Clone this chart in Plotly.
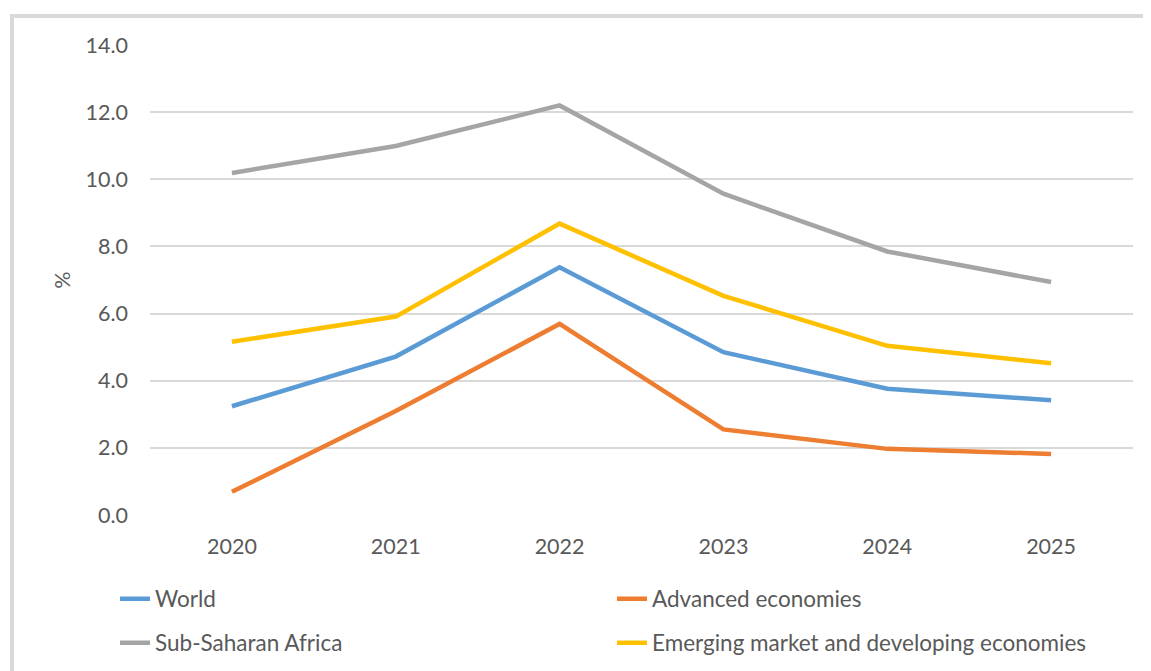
import plotly.graph_objects as go

years = ["2020", "2021", "2022", "2023", "2024", "2025"]
world = [3.24, 4.72, 7.38, 4.85, 3.76, 3.42]
advanced = [0.69, 3.10, 5.69, 2.55, 1.97, 1.82]
ssa = [10.19, 10.99, 12.20, 9.57, 7.85, 6.94]
emde = [5.16, 5.91, 8.68, 6.53, 5.04, 4.52]

y_ticks = [0, 2, 4, 6, 8, 10, 12, 14]
y_tick_labels = ["0.0", "2.0", "4.0", "6.0", "8.0", "10.0", "12.0", "14.0"]

FONT = "Lato, Liberation Sans, sans-serif"
TXT = "#595959"

fig = go.Figure()
series = [
    ("World", world, "#5b9bd5", "legend"),
    ("Advanced economies", advanced, "#ed7d31", "legend"),
    ("Sub-Saharan Africa", ssa, "#a5a5a5", "legend2"),
    ("Emerging market and developing economies", emde, "#ffc000", "legend2"),
]
for name, vals, col, lg in series:
    fig.add_trace(go.Scatter(
        x=years, y=vals, mode="lines", name=name,
        line=dict(color=col, width=4.5), legend=lg,
    ))

# page body has an 8px margin, so the figure is offset accordingly;
# the figure is taller than the window so the legends never push margins
OFF = 8
W, H = 1151 - OFF, 740
ml, mt = 150 - OFF, 45 - OFF
pw, ph = 983, 470
mr = W - ml - pw
mb = H - mt - ph

def px_to_paper_x(px):
    return (px - OFF - ml) / pw

def py_to_paper_y(py):
    return (mt + ph - (py - OFF)) / ph

legend_common = dict(
    orientation="h", entrywidth=452, entrywidthmode="pixels",
    font=dict(family=FONT, size=22.5, color=TXT),
    bgcolor="rgba(0,0,0,0)", xanchor="left", yanchor="middle",
)

fig.update_layout(
    width=W, height=H,
    margin=dict(l=ml, r=mr, t=mt, b=mb, pad=0),
    paper_bgcolor="white", plot_bgcolor="white",
    font=dict(family=FONT, size=21.5, color=TXT),
    showlegend=True,
    legend=dict(x=px_to_paper_x(115), y=py_to_paper_y(599), **legend_common),
    legend2=dict(x=px_to_paper_x(115), y=py_to_paper_y(643), **legend_common),
    xaxis=dict(
        type="category", range=[-0.5, 5.5], showgrid=False, zeroline=False,
        showline=False, ticks="", ticklabelstandoff=16,
        tickfont=dict(family=FONT, size=21.5, color=TXT),
    ),
    yaxis=dict(
        range=[0, 14], tickvals=y_ticks, ticktext=y_tick_labels,
        showgrid=True, gridcolor="#d9d9d9", gridwidth=1.5,
        zeroline=False, showline=False, ticks="", ticklabelstandoff=21,
        tickfont=dict(family=FONT, size=21.5, color=TXT),
        title=dict(text="%", font=dict(family=FONT, size=21.5, color=TXT), standoff=8),
    ),
    shapes=[
        dict(type="rect", xref="paper", yref="paper",
             x0=px_to_paper_x(12), x1=px_to_paper_x(1175),
             y0=py_to_paper_y(760), y1=py_to_paper_y(16),
             line=dict(color="#d9d9d9", width=4), fillcolor="rgba(0,0,0,0)",
             layer="below"),
    ],
)

fig.write_html("out.html", post_script="document.body.style.overflow='hidden';")
